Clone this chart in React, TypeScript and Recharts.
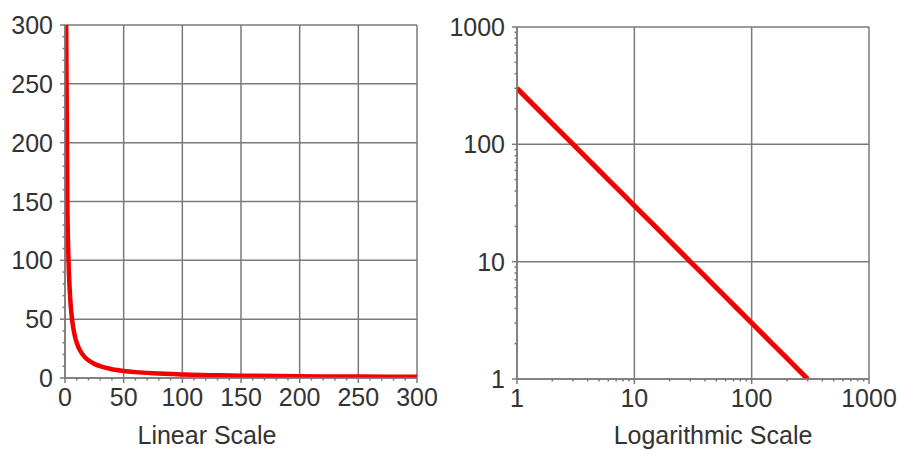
import { LineChart, Line, XAxis, YAxis, CartesianGrid } from 'recharts';

// readings of the curve (same points are plotted on both panels)
const xValues = [1, 2, 3, 4, 5, 6, 8, 10, 12, 15, 20, 25, 30, 40, 50, 60, 75, 100, 125, 150, 200, 250, 300];
const yValues = [300, 150, 100, 75, 60, 50, 37.5, 30, 25, 20, 15, 12, 10, 7.5, 6, 5, 4, 3, 2.4, 2, 1.5, 1.2, 1];

const linearMajor = [0, 50, 100, 150, 200, 250, 300];
const linearMinor = Array.from({ length: 31 }, (_, i) => i * 10);
const logMajor = [1, 10, 100, 1000];
const logMinor = [1, 2, 3, 4, 5, 6, 7, 8, 9, 10, 20, 30, 40, 50, 60, 70, 80, 90, 100, 200, 300, 400, 500, 600, 700, 800, 900, 1000];

const data = xValues.map((x, i) => ({ x, y: yValues[i] }));

const FONT = '"Liberation Sans", Arial, Helvetica, sans-serif';
const TEXT = '#333';
const GRID = '#7a7a7a';
const RED = '#f00000';

const makeXTick = (majors: number[]) => (p: any) => {
  const { x, y, payload } = p;
  const axisY = y - 10;
  const major = majors.includes(payload.value);
  return (
    <g>
      <line x1={x} x2={x} y1={axisY} y2={axisY + (major ? 5 : 2.5)} stroke={GRID} strokeWidth={1.5} />
      {major && (
        <text x={x} y={axisY + 10} dy="0.71em" textAnchor="middle" fontSize={25} fontFamily={FONT} fill={TEXT}>
          {payload.value}
        </text>
      )}
    </g>
  );
};

const makeYTick = (majors: number[]) => (p: any) => {
  const { x, y, payload } = p;
  const axisX = x + 12;
  const major = majors.includes(payload.value);
  return (
    <g>
      <line x1={axisX} x2={axisX - (major ? 5 : 2.5)} y1={y} y2={y} stroke={GRID} strokeWidth={1.5} />
      {major && (
        <text x={x} y={y} dy="0.36em" textAnchor="end" fontSize={25} fontFamily={FONT} fill={TEXT}>
          {payload.value}
        </text>
      )}
    </g>
  );
};

const captionStyle = (center: number): React.CSSProperties => ({
  position: 'absolute',
  left: center - 150,
  width: 300,
  top: 421,
  textAlign: 'center',
  fontFamily: FONT,
  fontSize: 25,
  lineHeight: 'normal',
  color: TEXT,
});

export default function App() {
  return (
    <div style={{ position: 'absolute', left: 0, top: 0, width: 901, height: 451, background: '#fff' }}>
      <div style={{ position: 'absolute', left: 0, top: 0 }}>
        <LineChart width={450} height={451} data={data} margin={{ top: 25, right: 33, bottom: 43, left: 10 }}>
          <CartesianGrid stroke={GRID} strokeWidth={1.5} verticalValues={linearMajor} horizontalValues={linearMajor} />
          <XAxis
            dataKey="x"
            type="number"
            domain={[0, 300]}
            allowDataOverflow
            ticks={linearMinor}
            interval={0}
            height={30}
            tickSize={5}
            tickMargin={5}
            tickLine={false}
            axisLine={{ stroke: GRID, strokeWidth: 1.5 }}
            tick={makeXTick(linearMajor)}
          />
          <YAxis
            type="number"
            domain={[0, 300]}
            allowDataOverflow
            ticks={linearMinor}
            interval={0}
            width={55}
            tickSize={5}
            tickMargin={7}
            tickLine={false}
            axisLine={{ stroke: GRID, strokeWidth: 1.5 }}
            tick={makeYTick(linearMajor)}
          />
          <Line type="monotone" dataKey="y" stroke={RED} strokeWidth={4.5} dot={false} isAnimationActive={false} />
        </LineChart>
      </div>
      <div style={{ position: 'absolute', left: 450, top: 0 }}>
        <LineChart width={451} height={451} data={data} margin={{ top: 27, right: 32, bottom: 42, left: 10 }}>
          <CartesianGrid stroke={GRID} strokeWidth={1.5} verticalValues={logMajor} horizontalValues={logMajor} />
          <XAxis
            dataKey="x"
            type="number"
            scale="log"
            domain={[1, 1000]}
            allowDataOverflow
            ticks={logMinor}
            interval={0}
            height={30}
            tickSize={5}
            tickMargin={5}
            tickLine={false}
            axisLine={{ stroke: GRID, strokeWidth: 1.5 }}
            tick={makeXTick(logMajor)}
          />
          <YAxis
            type="number"
            scale="log"
            domain={[1, 1000]}
            allowDataOverflow
            ticks={logMinor}
            interval={0}
            width={57}
            tickSize={5}
            tickMargin={7}
            tickLine={false}
            axisLine={{ stroke: GRID, strokeWidth: 1.5 }}
            tick={makeYTick(logMajor)}
          />
          <Line type="linear" dataKey="y" stroke={RED} strokeWidth={5} dot={false} isAnimationActive={false} />
        </LineChart>
      </div>
      <div style={captionStyle(207)}>Linear Scale</div>
      <div style={captionStyle(713)}>Logarithmic Scale</div>
    </div>
  );
}
